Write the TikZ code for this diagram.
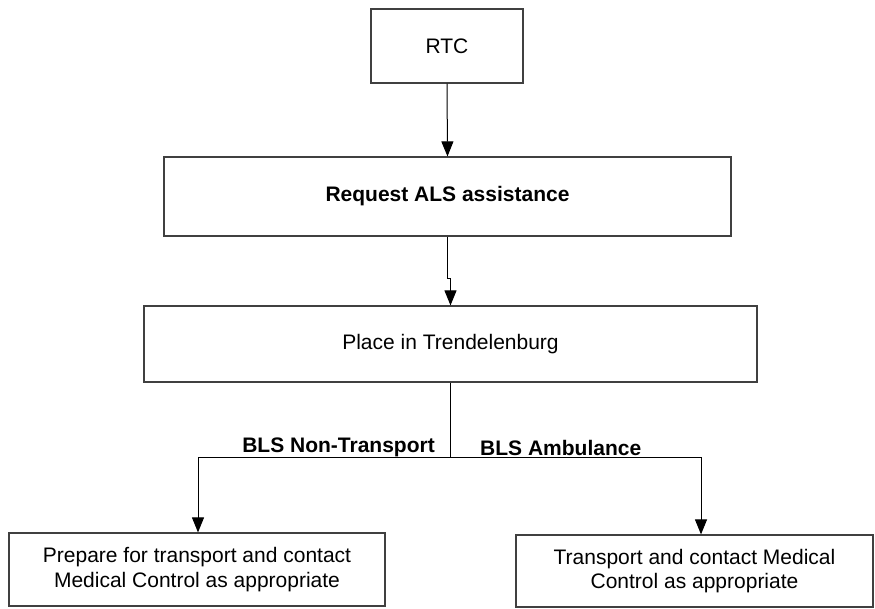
\documentclass[tikz,border=0pt]{standalone}
\usepackage{fontspec}
\setmainfont{Liberation Sans}
\usetikzlibrary{arrows.meta}
\begin{document}
\begin{tikzpicture}[x=1pt,y=1pt,
  box/.style={draw=black!75,line width=1.2pt,rectangle,inner sep=0pt,align=center,
    font=\fontsize{21}{24.5}\selectfont},
  arr/.style={draw=black,line width=1pt,-{Triangle[length=15pt,width=12pt]}},
  conn/.style={draw=black,line width=1pt},
  lbl/.style={inner sep=0pt,font=\fontsize{21}{24.5}\selectfont\bfseries}]
\useasboundingbox (0,0) rectangle (875,-608);
\node[box,minimum width=152pt,minimum height=74pt] (rtc) at (447,-46) {RTC};
\node[box,minimum width=567pt,minimum height=79pt,font=\fontsize{21}{24.5}\selectfont\bfseries] (req) at (447.5,-196.5) {Request ALS assistance};
\node[box,minimum width=613pt,minimum height=76pt] (place) at (450.5,-344) {Place in Trendelenburg};
\node[box,minimum width=376pt,minimum height=73pt] (left) at (197,-569.5) {Prepare for transport and contact\\Medical Control as appropriate};
\node[box,minimum width=357pt,minimum height=72pt] (right) at (694.5,-571) {Transport and contact Medical\\Control as appropriate};
\coordinate (split) at (450.5,-457);
\draw[arr] (rtc.south) -- (req.north);
\draw[arr] (req.south) -- ++(0,-42) -| (place.north);
\draw[conn] (place.south) -- (split);
\draw[arr] (split) -| ([xshift=1pt]left.north);
\draw[arr] (split) -| ([xshift=6.5pt]right.north);
\node[lbl,anchor=base east] (lnt) at (435,-452) {BLS Non-Transport};
\node[lbl,anchor=base west] (lamb) at (480,-455) {BLS Ambulance};
\end{tikzpicture}
\end{document}
